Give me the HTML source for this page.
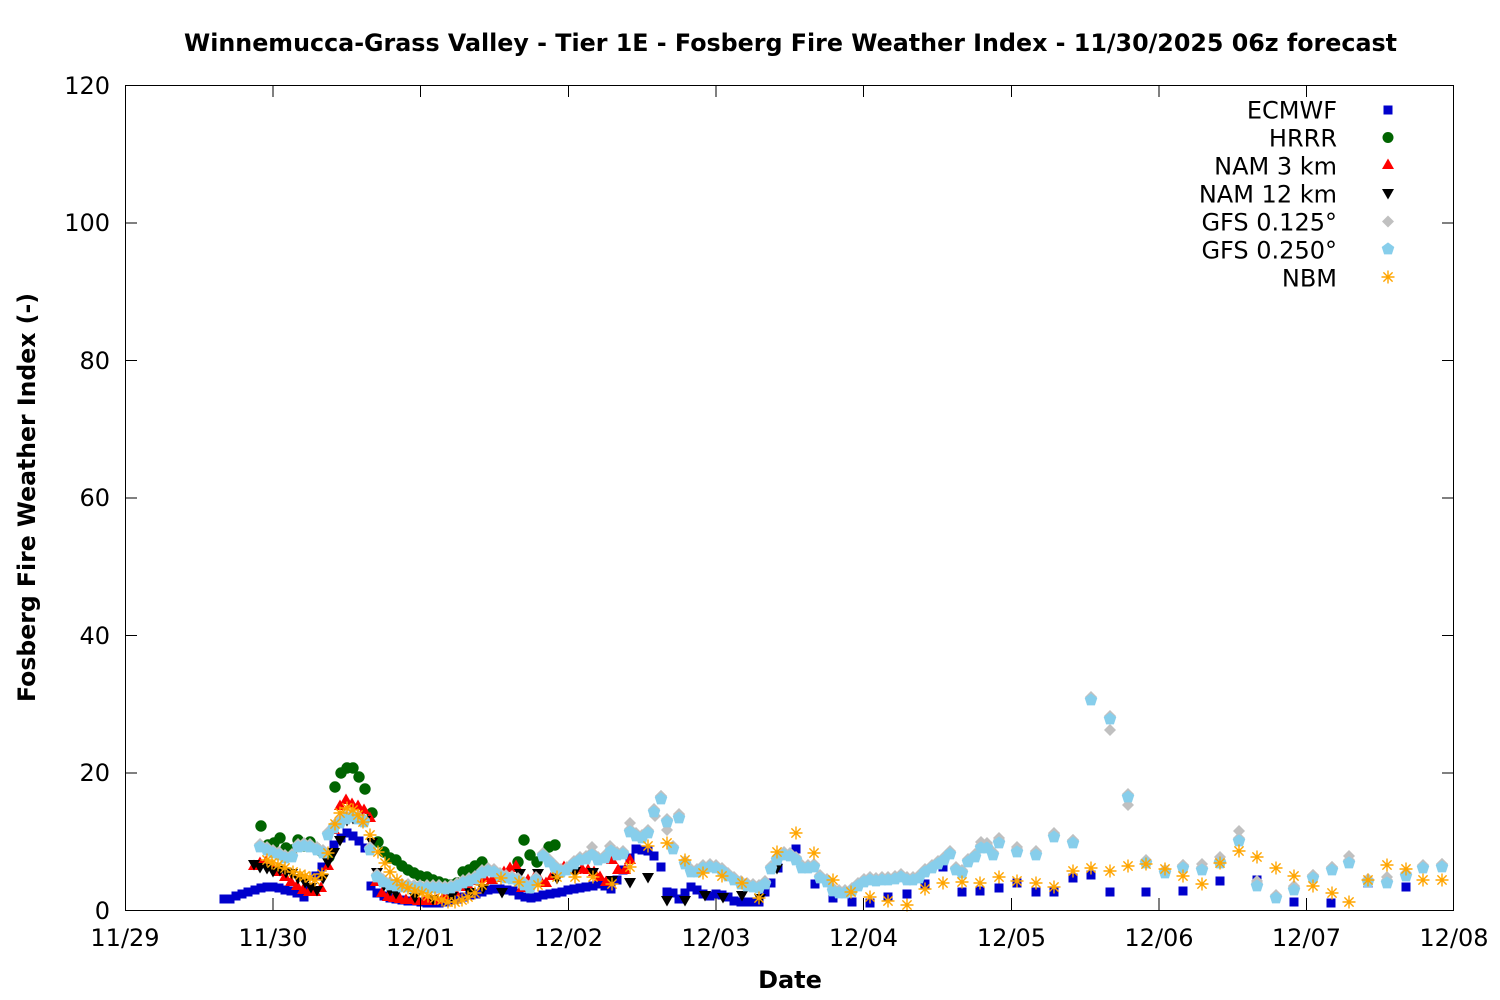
<!DOCTYPE html>
<html>
<head>
<meta charset="utf-8">
<style>
html,body{margin:0;padding:0;background:#fff;}
svg{display:block;}
</style>
</head>
<body>
<svg width="1500" height="1000" viewBox="0 0 1500 1000" xmlns="http://www.w3.org/2000/svg" font-family="'DejaVu Sans','Liberation Sans',sans-serif">
<defs>
  <marker id="mSq" markerUnits="userSpaceOnUse" markerWidth="20" markerHeight="20" refX="10" refY="10" overflow="visible"><rect x="5.5" y="5.5" width="9" height="9" fill="#0000cc"/></marker>
  <marker id="mCi" markerUnits="userSpaceOnUse" markerWidth="20" markerHeight="20" refX="10" refY="10" overflow="visible"><circle cx="10" cy="10" r="5.7" fill="#006400"/></marker>
  <marker id="mTu" markerUnits="userSpaceOnUse" markerWidth="20" markerHeight="20" refX="10" refY="10" overflow="visible"><polygon points="4,14 16,14 10,3.5" fill="#ff0000"/></marker>
  <marker id="mTd" markerUnits="userSpaceOnUse" markerWidth="20" markerHeight="20" refX="10" refY="10" overflow="visible"><polygon points="4,6 16,6 10,16.5" fill="#000000"/></marker>
  <marker id="mDi" markerUnits="userSpaceOnUse" markerWidth="20" markerHeight="20" refX="10" refY="10" overflow="visible"><polygon points="10,4 16,10 10,16 4,10" fill="#c0c0c0"/></marker>
  <marker id="mPe" markerUnits="userSpaceOnUse" markerWidth="20" markerHeight="20" refX="10" refY="10" overflow="visible"><polygon points="10,3.4 16.3,8 13.9,15.4 6.1,15.4 3.7,8" fill="#87ceeb"/></marker>
  <marker id="mAs" markerUnits="userSpaceOnUse" markerWidth="20" markerHeight="20" refX="10" refY="10" overflow="visible"><path d="M3.5,10H16.5M10,3.5V16.5M5.4,5.4L14.6,14.6M5.4,14.6L14.6,5.4" stroke="#ffa500" stroke-width="1.4" fill="none"/></marker>
</defs>

<rect x="0" y="0" width="1500" height="1000" fill="#ffffff"/>

<!-- Title -->
<text x="790.5" y="51" text-anchor="middle" font-size="24" font-weight="bold" fill="#000" textLength="1213" lengthAdjust="spacingAndGlyphs">Winnemucca-Grass Valley - Tier 1E - Fosberg Fire Weather Index - 11/30/2025 06z forecast</text>

<!-- Data series -->
<g fill="none" stroke="none">
<!-- ECMWF -->
<polyline marker-start="url(#mSq)" marker-mid="url(#mSq)" marker-end="url(#mSq)" points="224,899 230,899 236,896 242,894 248,892 255,890 261,888 267,887 273,887 279,888 285,890 291,891 297,893 304,897 310,890 316,876 322,867 328,855 334,845 341,838 347,833 353,836 359,841 365,848 371,886 377,893 384,896 390,898 396,899 402,900 408,901 414,901 421,902 427,903 433,903 439,903 445,902 451,900 457,899 464,897 470,895 476,894 482,892 488,890 494,889 500,889 507,890 513,891 519,895 525,897 531,898 537,897 543,895 550,894 556,893 562,892 568,890 574,889 580,888 586,887 593,886 599,884 605,886 611,889 617,880 623,870 630,858 636,849 642,850 648,851 654,856 661,867 667,892 673,893 679,899 685,893 691,887 697,890 703,894 710,896 716,894 722,895 728,897 734,901 741,902 747,902 753,902 759,902 765,892 771,883 778,868 796,849 815,884 833,898 852,902 870,903 888,897 907,894 925,884 943,867 962,892 980,891 999,888 1017,883 1036,892 1054,892 1073,878 1091,875 1110,892 1146,892 1183,891 1220,881 1257,880 1294,902 1331,903 1368,883 1406,887"/>
<!-- HRRR -->
<polyline marker-start="url(#mCi)" marker-mid="url(#mCi)" marker-end="url(#mCi)" points="261,826 268,845 274,843 280,838 286,848 292,850 298,840 304,846 310,842 316,848 322,852 329,857 335,787 341,773 347,768 353,768 359,777 365,789 372,813 378,842 384,852 390,858 396,860 402,866 408,870 414,873 420,876 427,877 433,880 439,882 445,884 451,885 457,883 463,872 469,870 475,866 482,862 518,862 524,840 530,855 537,862 549,847 555,845"/>
<!-- NAM 3 km -->
<polyline marker-start="url(#mTu)" marker-mid="url(#mTu)" marker-end="url(#mTu)" points="254,866 260,863 266,862 272,866 278,872 285,877 291,882 297,886 303,890 309,892 315,892 321,888 328,866 334,830 340,806 346,800 352,804 358,806 364,810 370,818 376,882 382,893 388,897 394,898 400,899 406,900 412,900 418,901 425,901 431,901 437,900 443,898 449,895 455,892 461,887 467,884 473,881 479,879 485,878 492,880 498,878 504,872 510,868 516,866 522,888 528,880 534,878 540,880 546,883 552,876 558,870 564,867 570,868 576,870 582,869 588,870 594,872 600,877 606,882 612,860 618,870 625,870 630,860"/>
<!-- NAM 12 km -->
<polyline marker-start="url(#mTd)" marker-mid="url(#mTd)" marker-end="url(#mTd)" points="254,864 260,867 267,868 273,871 280,870 286,872 292,873 298,878 305,882 311,887 317,890 323,878 328,862 334,852 340,840 347,820 353,818 359,818 365,820 372,842 377,872 384,885 390,890 396,893 415,897 433,899 452,896 470,892 483,888 502,892 520,873 538,873 557,878 575,871 593,872 612,880 630,882 648,877 667,900 685,900 705,895 723,897 742,895 760,898 777,868"/>
<!-- GFS 0.125 -->
<polyline transform="translate(0,-3)" marker-start="url(#mDi)" marker-mid="url(#mDi)" marker-end="url(#mDi)" points="260,847 267,850 273,853 279,855 285,858 292,857 298,847 304,846 310,847 317,850 323,853 328,835 334,828 340,823 346,819 352,817 358,819 364,822 370,850 377,877 383,882 390,885 396,886 402,887 408,887 414,888 420,888 427,888 433,888 439,888 445,889 451,888 457,886 463,883 469,881 475,879 482,873 488,871 494,872 500,876 506,878 512,879 518,881 524,885 530,888 536,880 543,856 549,862 555,868 561,872 567,870 574,864 580,860 586,859 592,855 598,860 605,858 611,851 617,855 623,854 630,832 636,836 642,838 648,833 654,812 661,799 667,822 673,849 679,818 685,864 691,872 697,872 703,868 710,867 716,868 722,871 728,876 734,880 741,884 747,886 753,887 759,888 765,884 771,869 777,860 784,855 790,856 796,860 802,868 808,868 814,867 820,878 827,882 833,891 839,893 845,893 852,891 858,886 864,882 870,880 876,881 882,880 888,880 895,879 901,877 907,880 913,880 919,878 925,872 932,868 938,864 944,860 950,854 956,870 962,873 968,862 975,857 981,848 987,848 993,855 999,843 1017,852 1036,855 1054,837 1073,843 1091,700 1110,719 1128,797 1146,863 1165,873 1183,868 1202,870 1220,863 1239,841 1257,886 1276,898 1294,890 1313,878 1332,870 1349,863 1368,882 1387,883 1406,876 1423,868 1442,867"/>
<polyline marker-start="url(#mDi)" marker-mid="url(#mDi)" marker-end="url(#mDi)" points="592,847 610,846 630,823 655,816 661,796 667,830 679,814 981,842 987,843 999,838 1017,847 1036,851 1054,833 1073,840 1110,730 1128,805 1165,870 1183,865 1202,864 1220,857 1239,831 1257,881 1294,886 1313,875 1332,867 1349,856 1387,877 1423,866 1442,864"/>
<!-- GFS 0.250 -->
<polyline marker-start="url(#mPe)" marker-mid="url(#mPe)" marker-end="url(#mPe)" points="260,847 267,850 273,853 279,855 285,858 292,857 298,847 304,846 310,847 317,850 323,853 328,835 334,828 340,823 346,819 352,817 358,819 364,822 370,850 377,877 383,882 390,885 396,886 402,887 408,887 414,888 420,888 427,888 433,888 439,888 445,889 451,888 457,886 463,883 469,881 475,879 482,873 488,871 494,872 500,876 506,878 512,879 518,881 524,885 530,888 536,880 543,856 549,862 555,868 561,872 567,870 574,864 580,860 586,859 592,855 598,860 605,858 611,851 617,855 623,854 630,832 636,836 642,838 648,833 654,812 661,799 667,822 673,849 679,818 685,864 691,872 697,872 703,868 710,867 716,868 722,871 728,876 734,880 741,884 747,886 753,887 759,888 765,884 771,869 777,860 784,855 790,856 796,860 802,868 808,868 814,867 820,878 827,882 833,891 839,893 845,893 852,891 858,886 864,882 870,880 876,881 882,880 888,880 895,879 901,877 907,880 913,880 919,878 925,872 932,868 938,864 944,860 950,854 956,870 962,873 968,862 975,857 981,848 987,848 993,855 999,843 1017,852 1036,855 1054,837 1073,843 1091,700 1110,719 1128,797 1146,863 1165,873 1183,868 1202,870 1220,863 1239,841 1257,886 1276,898 1294,890 1313,878 1332,870 1349,863 1368,882 1387,883 1406,876 1423,868 1442,867"/>
<!-- NBM -->
<polyline marker-start="url(#mAs)" marker-mid="url(#mAs)" marker-end="url(#mAs)" points="267,860 272,863 278,865 285,868 293,872 300,875 305,876 310,878 315,880 322,874 328,853 335,824 340,813 347,808 353,810 358,815 363,822 370,835 378,852 385,863 390,872 397,880 402,885 408,888 415,891 422,893 428,896 435,898 442,900 448,902 455,902 462,900 468,897 475,893 482,885 501,878 519,882 538,885 557,877 575,877 593,877 612,884 630,867 648,846 667,843 685,860 703,873 722,876 742,883 759,898 777,852 796,833 814,853 833,880 851,892 870,897 888,901 907,905 925,889 943,883 962,882 980,883 999,877 1017,881 1036,883 1054,887 1073,871 1091,868 1110,871 1128,866 1146,864 1165,869 1183,876 1202,884 1220,863 1239,851 1257,857 1276,868 1294,876 1313,886 1332,893 1349,902 1368,880 1387,865 1406,869 1423,880 1442,880"/>
</g>

<!-- Axes box -->
<rect x="125.5" y="85.5" width="1328" height="825" fill="none" stroke="#000" stroke-width="1"/>

<!-- Ticks -->
<path stroke="#000" stroke-width="1" fill="none" d="
M125,910.5H137 M125,773H137 M125,635.5H137 M125,498H137 M125,360.5H137 M125,223H137 M125,85.5H137
M1454,910.5H1442 M1454,773H1442 M1454,635.5H1442 M1454,498H1442 M1454,360.5H1442 M1454,223H1442 M1454,85.5H1442
M273,910V898 M420.5,910V898 M568.5,910V898 M716,910V898 M863.5,910V898 M1011.5,910V898 M1159,910V898 M1306.5,910V898
M273,85V97 M420.5,85V97 M568.5,85V97 M716,85V97 M863.5,85V97 M1011.5,85V97 M1159,85V97 M1306.5,85V97"/>

<!-- Y tick labels -->
<g font-size="24" fill="#000" text-anchor="end">
<text x="110" y="919">0</text>
<text x="110" y="781">20</text>
<text x="110" y="644">40</text>
<text x="110" y="506">60</text>
<text x="110" y="369">80</text>
<text x="110" y="231">100</text>
<text x="110" y="94">120</text>
</g>

<!-- X tick labels -->
<g font-size="24" fill="#000" text-anchor="middle">
<text x="125" y="946">11/29</text>
<text x="273" y="946">11/30</text>
<text x="420.5" y="946">12/01</text>
<text x="568.5" y="946">12/02</text>
<text x="716" y="946">12/03</text>
<text x="863.5" y="946">12/04</text>
<text x="1011.5" y="946">12/05</text>
<text x="1159" y="946">12/06</text>
<text x="1306.5" y="946">12/07</text>
<text x="1454" y="946">12/08</text>
</g>

<!-- Axis labels -->
<text x="790" y="988" text-anchor="middle" font-size="24" font-weight="bold" fill="#000">Date</text>
<text transform="translate(35,497.5) rotate(-90)" text-anchor="middle" font-size="24" font-weight="bold" fill="#000" textLength="409" lengthAdjust="spacingAndGlyphs">Fosberg Fire Weather Index (-)</text>

<!-- Legend -->
<g font-size="24" fill="#000" text-anchor="end">
<text x="1337" y="118.5">ECMWF</text>
<text x="1337" y="146.5">HRRR</text>
<text x="1337" y="174.5">NAM 3 km</text>
<text x="1337" y="202.5">NAM 12 km</text>
<text x="1337" y="230.5">GFS 0.125°</text>
<text x="1337" y="258.5">GFS 0.250°</text>
<text x="1337" y="286.5">NBM</text>
</g>
<rect x="1383.5" y="105.5" width="9" height="9" fill="#0000cc"/>
<circle cx="1388" cy="137.5" r="5.5" fill="#006400"/>
<polygon points="1382,169 1394,169 1388,158.5" fill="#ff0000"/>
<polygon points="1382,189 1394,189 1388,199.5" fill="#000000"/>
<polygon points="1388,215.5 1394,221.5 1388,227.5 1382,221.5" fill="#c0c0c0"/>
<polygon points="1388,242.4 1394.3,247 1391.9,254.4 1384.1,254.4 1381.7,247" fill="#87ceeb"/>
<path d="M1381.5,277H1394.5M1388,270.5V283.5M1383.4,272.4L1392.6,281.6M1383.4,281.6L1392.6,272.4" stroke="#ffa500" stroke-width="1.4" fill="none"/>
</svg>
</body>
</html>
